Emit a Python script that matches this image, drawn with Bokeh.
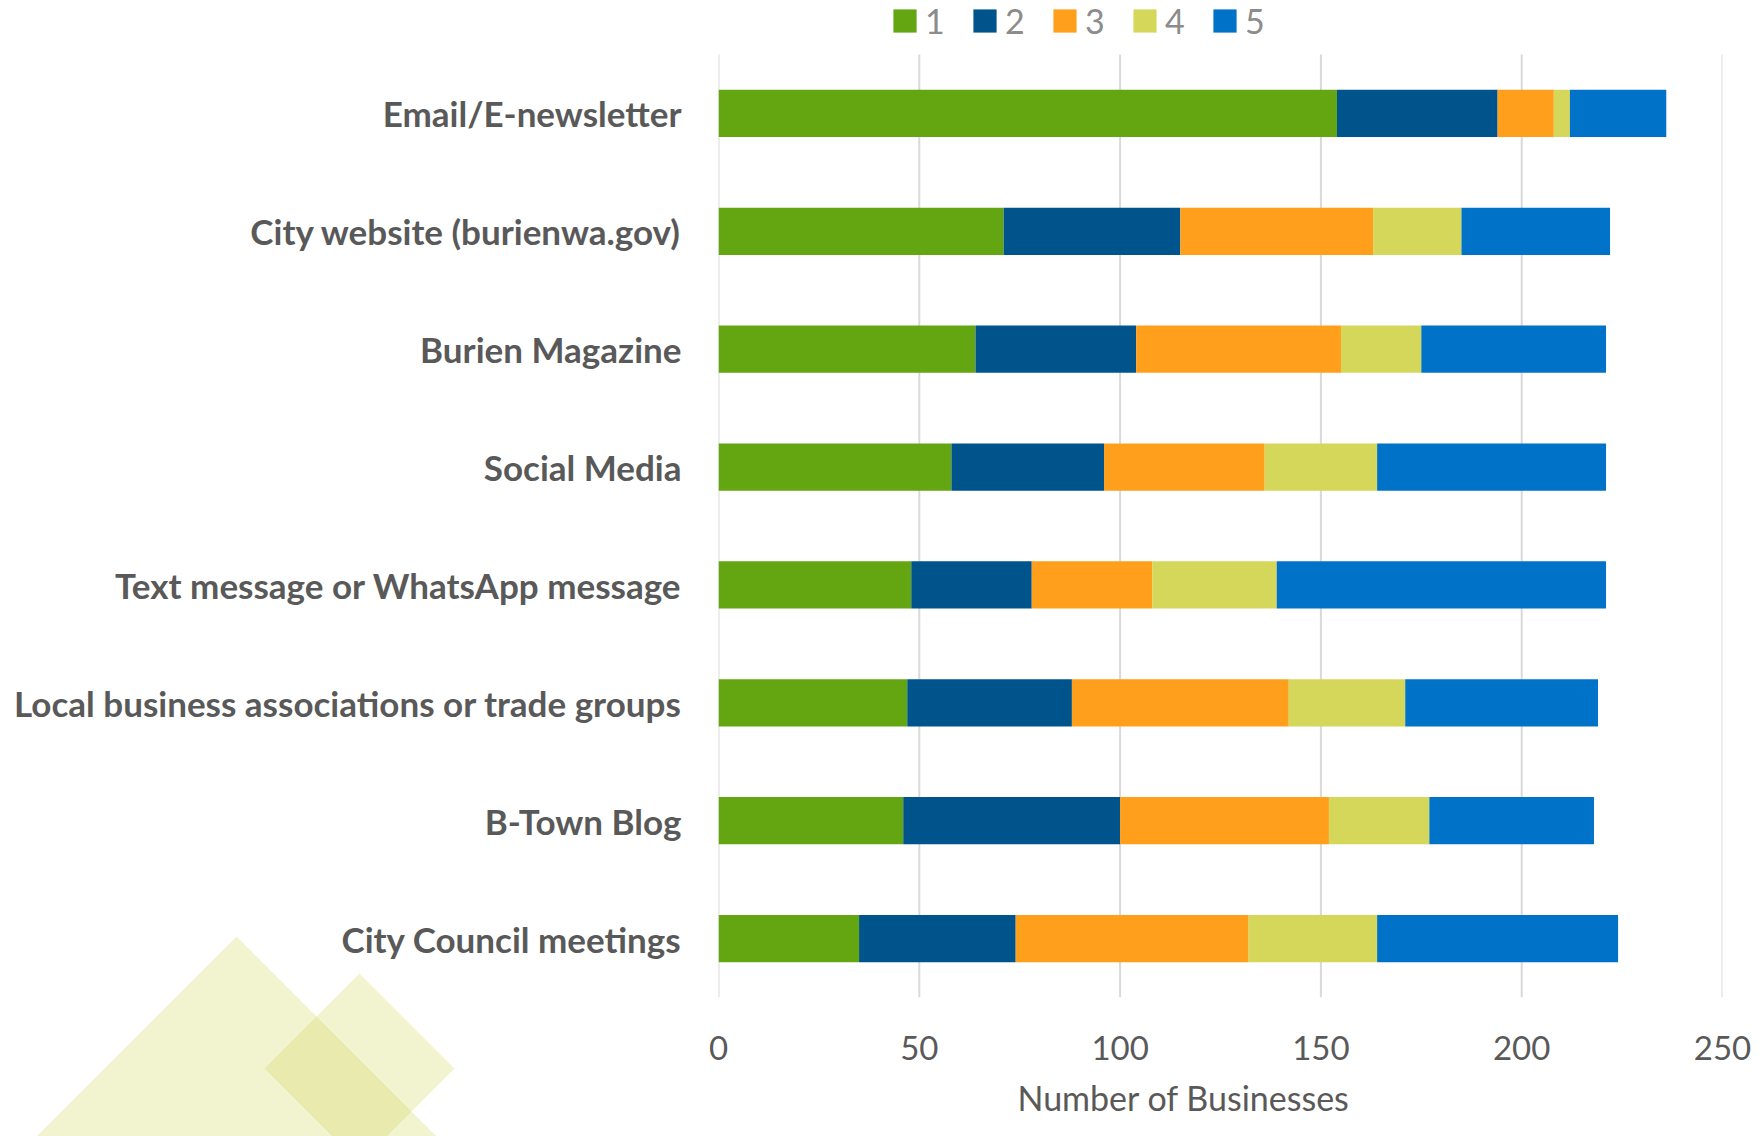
from bokeh.plotting import figure
from bokeh.layouts import row
from bokeh.models import (Legend, LegendItem, Title, Range1d, FixedTicker,
                          ColumnDataSource)
from bokeh.embed import file_html
from bokeh.resources import INLINE

categories = ["Email/E-newsletter", "City website (burienwa.gov)", "Burien Magazine",
              "Social Media", "Text message or WhatsApp message",
              "Local business associations or trade groups", "B-Town Blog",
              "City Council meetings"]
r1 = [154, 71, 64, 58, 48, 47, 46, 35]
r2 = [40, 44, 40, 38, 30, 41, 54, 39]
r3 = [14, 48, 51, 40, 30, 54, 52, 58]
r4 = [4, 22, 20, 28, 31, 29, 25, 32]
r5 = [24, 37, 46, 57, 82, 48, 41, 60]
ratings = ["1", "2", "3", "4", "5"]
colors = ["#63a612", "#00548c", "#ff9f1c", "#d4d75a", "#0073c8"]
x_ticks = [0, 50, 100, 150, 200, 250]
axis_title = "Number of Businesses"

# decorative background shapes (pixel space of the left panel, y down)
big_tri_x = [236, -24, 496]
big_tri_y = [936, 1196, 1196]
small_dia_x = [359, 454, 359, 264]
small_dia_y = [973, 1068, 1163, 1068]

FONT = "Lato"
W, H = 1757, 1136
LEFT_W = 688
FRAME_TOP, FRAME_BOTTOM = 54, 997
n = len(categories)
unit = (FRAME_BOTTOM - FRAME_TOP) / n
top_pad = FRAME_TOP / unit
ypos = [n - 0.5 - i for i in range(n)]   # category slots, top to bottom


def to_units(ys):
    return [(FRAME_BOTTOM - y) / unit for y in ys]


def no_align(fig):
    if "frame_align" in fig.properties():
        fig.frame_align = False


# ---------------- left panel: category labels + decoration ----------------
a = figure(width=LEFT_W, height=H, output_backend="svg", toolbar_location=None,
           x_range=Range1d(0, LEFT_W),
           y_range=Range1d(-(H - FRAME_BOTTOM) / unit, n + top_pad),
           min_border=0, min_border_left=0, min_border_right=0,
           min_border_top=0, min_border_bottom=0)
no_align(a)
a.axis.visible = False
a.grid.visible = False
a.outline_line_color = None
a.patches(xs=[big_tri_x, small_dia_x], ys=[to_units(big_tri_y), to_units(small_dia_y)],
          fill_color="#d6da6b", fill_alpha=0.32, line_color=None)
a.text(x=[681] * n, y=ypos, text=categories, text_align="right",
       text_baseline="middle", text_font_size="35px", text_font_style="bold",
       text_color="#595959", text_font={"value": FONT})

# ---------------- main chart ----------------
source = ColumnDataSource(dict(cat=categories, ypos=ypos,
                               **{"1": r1, "2": r2, "3": r3, "4": r4, "5": r5}))
p = figure(y_range=Range1d(0, n + top_pad), x_range=Range1d(0, 250),
           width=W - LEFT_W, height=H,
           output_backend="svg", toolbar_location=None,
           min_border_left=30, min_border_right=W - LEFT_W - 30 - 1004,
           min_border_top=0, min_border_bottom=H - FRAME_BOTTOM)
no_align(p)
p.segment(x0=x_ticks, x1=x_ticks, y0=[0] * len(x_ticks), y1=[n] * len(x_ticks),
          line_color="#d9d9d9", line_width=2)

rends = p.hbar_stack(ratings, y="ypos", height=0.4, color=colors, source=source,
                     line_width=0)

legend = Legend(items=[LegendItem(label=r, renderers=[rd]) for r, rd in zip(ratings, rends)],
                orientation="horizontal", location=(172, 956),
                glyph_width=29, glyph_height=29, label_standoff=6, spacing=25,
                label_width=20,
                label_text_font_size="34px", label_text_color="#8c8c8c",
                label_text_font=FONT,
                padding=0, margin=0, border_line_color=None,
                background_fill_alpha=0)
p.add_layout(legend)

p.outline_line_color = None
p.grid.visible = False
p.yaxis.visible = False
p.xaxis.ticker = FixedTicker(ticks=x_ticks)
p.xaxis.axis_line_color = None
p.xaxis.major_tick_line_color = None
p.xaxis.minor_tick_line_color = None
p.xaxis.major_label_standoff = 32
p.xaxis.major_label_text_font_size = "33px"
p.xaxis.major_label_text_color = "#595959"
p.xaxis.major_label_text_font = FONT

p.add_layout(Title(text=axis_title, align="left", offset=299, standoff=24,
                   text_font_size="34px", text_font_style="normal",
                   text_color="#595959", text_font=FONT), "below")

layout = row(a, p, spacing=0)
open("out.html", "w").write(file_html(layout, INLINE))
